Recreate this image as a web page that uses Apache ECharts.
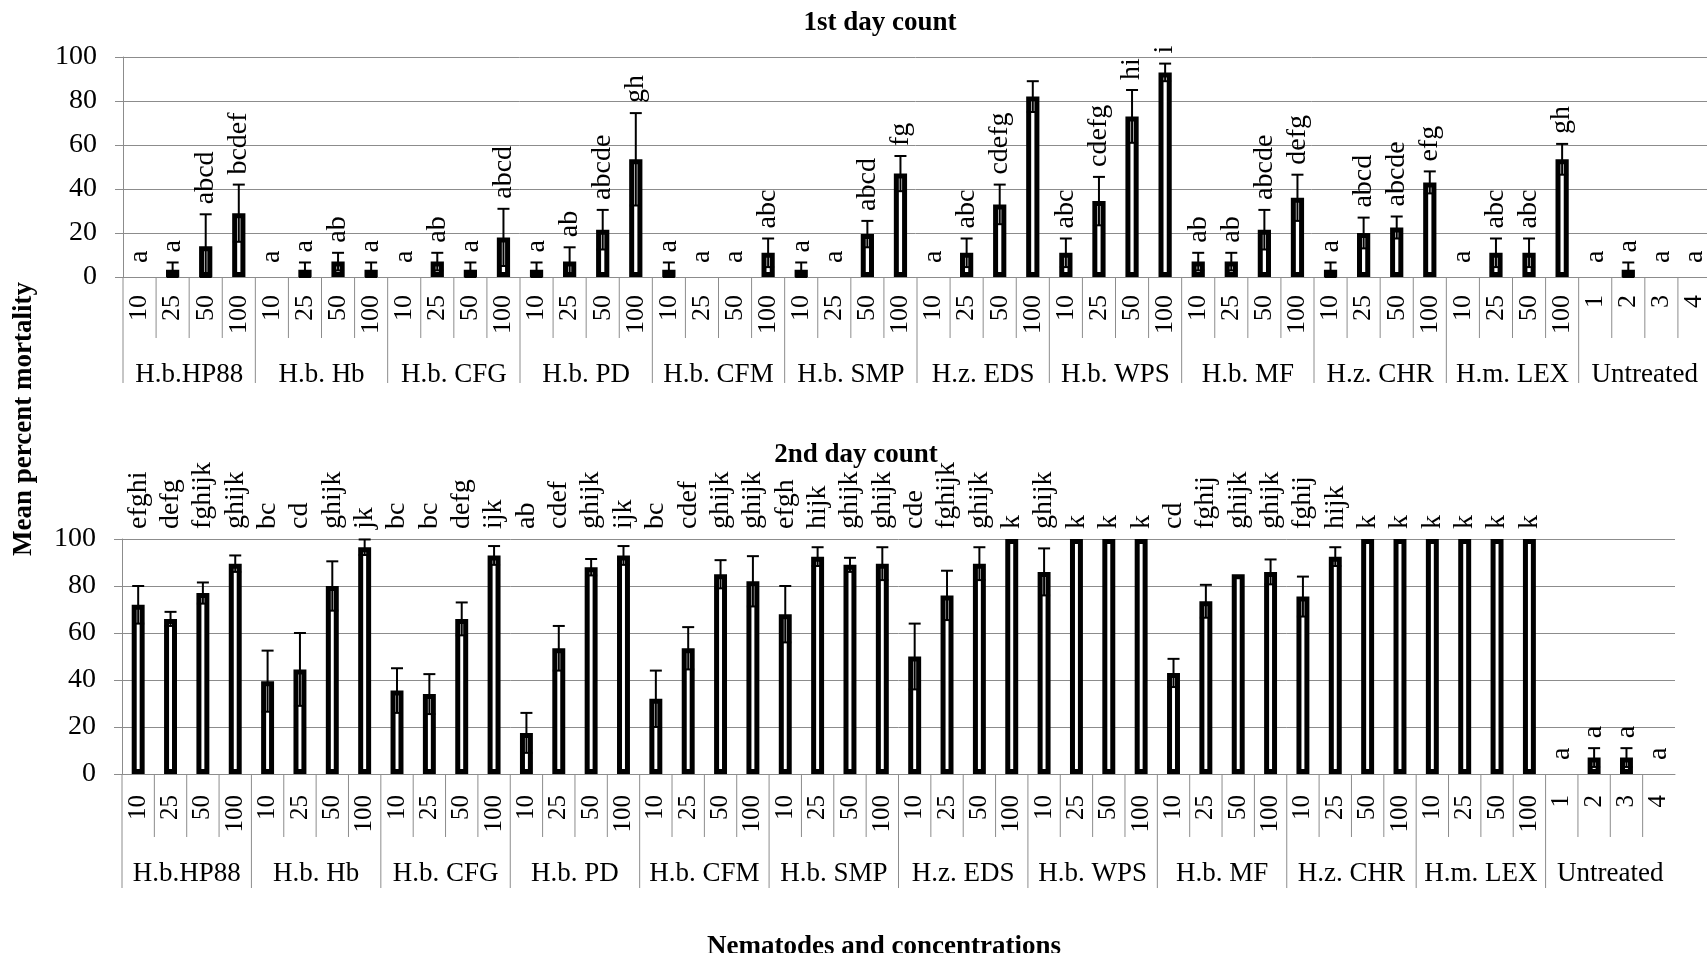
<!DOCTYPE html>
<html>
<head>
<meta charset="utf-8">
<script src="https://cdn.jsdelivr.net/npm/echarts@6/dist/echarts.min.js"></script>
<style>
  html, body { margin: 0; padding: 0; background: #fff; }
  #chart { width: 1707px; height: 953px; }
</style>
</head>
<body>
<div id="chart"></div>
<script>
// isolates and concentrations (the control has 4 replicates instead)
const groups = ["H.b.HP88", "H.b. Hb", "H.b. CFG", "H.b. PD", "H.b. CFM", "H.b. SMP",
  "H.z. EDS", "H.b. WPS", "H.b. MF", "H.z. CHR", "H.m. LEX", "Untreated"];
const concentrations = ["10", "25", "50", "100"];
const controlReps = ["1", "2", "3", "4"];

// ===== 1st day count =====
const day1Mean = [
  0, 3.3, 14, 29,   0, 3.3, 7, 3.3,   0, 7, 3.3, 18,   3.3, 7, 21.5, 53.5,
  3.3, 0, 0, 11,    3.3, 0, 19.5, 47, 0, 11, 33, 82,   11, 34.5, 73, 93,
  7, 7, 21.5, 36,   3.3, 20, 22.5, 43, 0, 11, 11, 53.5, 0, 3.3, 0, 0,
];
const day1Err = [
  0, 3.3, 14.5, 13, 0, 3.3, 4, 3.3,   0, 4, 3.3, 13,   3.3, 6.5, 9, 21,
  3.3, 0, 0, 6.5,   3.3, 0, 6, 8,     0, 6.5, 9, 7,    6.5, 11, 12, 4,
  4, 4, 9, 10.5,    3.3, 7, 5, 5,     0, 6.5, 6.5, 7,  0, 3.3, 0, 0,
];
const day1Letters = [
  "a", "a", "abcd", "bcdef",   "a", "a", "ab", "a",        "a", "ab", "a", "abcd",
  "a", "ab", "abcde", "gh",    "a", "a", "a", "abc",       "a", "a", "abcd", "fg",
  "a", "abc", "cdefg", "",     "abc", "cdefg", "hi", "i",  "ab", "ab", "abcde", "defg",
  "a", "abcd", "abcde", "efg", "a", "abc", "abc", "gh",    "a", "a", "a", "a",
];

// ===== 2nd day count =====
const day2Mean = [
  72, 66, 77, 89.5,   39.5, 44.5, 80, 96.5, 35.5, 34, 66, 93,   17.5, 53.5, 88, 93,
  32, 53.5, 85, 82,   68, 92.5, 89, 89.5,   50, 76, 89.5, 100,  86, 100, 100, 100,
  43, 73.5, 85, 86,   75.5, 92.5, 100, 100, 100, 100, 100, 100, 0, 7, 7, 0,
];
const day2Err = [
  8, 3, 4.5, 3.5,     13, 15.5, 10.5, 3.3,  9.5, 8.5, 7, 4,     8.5, 9.5, 3.5, 4,
  12, 9, 6, 10.7,     12, 4, 3, 7,          14, 10.5, 7, 0,     10, 0, 0, 0,
  6, 7, 0, 5.3,       8.5, 4, 0, 0,         0, 0, 0, 0,         0, 4, 4, 0,
];
const day2Letters = [
  "efghi", "defg", "fghijk", "ghijk", "bc", "cd", "ghijk", "jk",     "bc", "bc", "defg", "ijk",
  "ab", "cdef", "ghijk", "ijk",       "bc", "cdef", "ghijk", "ghijk", "efgh", "hijk", "ghijk", "ghijk",
  "cde", "fghijk", "ghijk", "k",      "ghijk", "k", "k", "k",         "cd", "fghij", "ghijk", "ghijk",
  "fghij", "hijk", "k", "k",          "k", "k", "k", "k",             "a", "a", "a", "a",
];

const categories = groups.flatMap(g => (g === "Untreated" ? controlReps : concentrations));

const serif = '"Liberation Serif", "Times New Roman", serif';
const gray = "#8c8c8c";

// error bar + significance letters for one panel
function errorBarRenderer(mean, err, letters, pinTop) {
  return function (params, api) {
    const i = params.dataIndex;
    const v = mean[i], e = err[i];
    const x = api.coord([i, 0])[0];
    const children = [];
    if (e > 0) {
      const lo = api.coord([i, Math.max(v - e, 0)])[1];
      const hi = api.coord([i, v + e])[1];
      const cap = 6;
      const st = { stroke: "#000", lineWidth: 2 };
      children.push({ type: "line", shape: { x1: x, y1: lo, x2: x, y2: hi }, style: st });
      children.push({ type: "line", shape: { x1: x - cap, y1: hi, x2: x + cap, y2: hi }, style: st });
      children.push({ type: "line", shape: { x1: x - cap, y1: lo, x2: x + cap, y2: lo }, style: st });
    }
    let top = v + e;
    if (pinTop && top > 20) top = 100;
    const y = api.coord([i, top])[1] - (top === 0 ? 14 : 10);
    children.push({
      type: "text", x: x, y: y, rotation: Math.PI / 2,
      style: {
        text: letters[i], fill: "#000", fontSize: 28, fontFamily: serif,
        align: "left", verticalAlign: "middle",
      },
    });
    return { type: "group", children };
  };
}

// category / group separators under the axis
function separatorRenderer(shortLen, longLen) {
  return function (params, api) {
    const i = params.dataIndex;
    const w = api.size([1, 0])[0];
    const p = api.coord([i, 0]);
    const left = p[0] - w / 2;
    const len = i % 4 === 0 ? longLen : shortLen;
    return {
      type: "line",
      shape: { x1: left, y1: p[1], x2: left, y2: p[1] + len },
      style: { stroke: gray, lineWidth: 1 },
    };
  };
}

function panelSeries(k, mean, err, letters, pinTop, shortLen, longLen) {
  return [
    {
      type: "bar", xAxisIndex: 2 * k, yAxisIndex: k, barWidth: "40%",
      data: mean.map(v => (v === 0 ? { value: 0, itemStyle: { borderWidth: 0 } } : v)),
      itemStyle: { color: "#fff", borderColor: "#000", borderWidth: 5 },
      silent: true,
    },
    {
      type: "custom", xAxisIndex: 2 * k, yAxisIndex: k, clip: false, z: 3, silent: true,
      data: mean.map((v, i) => [i, v]),
      renderItem: errorBarRenderer(mean, err, letters, pinTop),
    },
    {
      type: "custom", xAxisIndex: 2 * k, yAxisIndex: k, clip: false, silent: true,
      data: mean.map((v, i) => [i, 0]),
      renderItem: separatorRenderer(shortLen, longLen),
    },
  ];
}

function concAxis(k, margin, size) {
  return {
    type: "category", gridIndex: k, position: "bottom", data: categories,
    axisLine: { lineStyle: { color: gray, width: 1 } },
    axisTick: { show: false },
    axisLabel: { interval: 0, rotate: 90, margin, color: "#000", fontSize: size, fontFamily: serif },
  };
}

function groupAxis(k, margin) {
  return {
    type: "category", gridIndex: k, position: "bottom", data: groups,
    axisLine: { show: false }, axisTick: { show: false },
    axisLabel: { interval: 0, margin, color: "#000", fontSize: 27, fontFamily: serif },
  };
}

function valueAxis(k) {
  return {
    type: "value", gridIndex: k, min: 0, max: 100, interval: 20,
    axisLine: { show: true, lineStyle: { color: gray, width: 1 } },
    axisTick: { show: true, length: 8, lineStyle: { color: gray } },
    splitLine: { lineStyle: { color: gray, width: 1 } },
    axisLabel: { margin: 26, color: "#000", fontSize: 28, fontFamily: serif },
  };
}

const chart = echarts.init(document.getElementById("chart"));
chart.setOption({
  animation: false,
  backgroundColor: "#fff",
  grid: [
    { left: 123, top: 57, width: 1588, height: 220, outerBoundsMode: "none" },
    { left: 122, top: 539, width: 1553, height: 235, outerBoundsMode: "none" },
  ],
  xAxis: [concAxis(0, 18, 26), groupAxis(0, 84), concAxis(1, 21, 25), groupAxis(1, 86)],
  yAxis: [valueAxis(0), valueAxis(1)],
  series: [
    ...panelSeries(0, day1Mean, day1Err, day1Letters, false, 61, 106),
    ...panelSeries(1, day2Mean, day2Err, day2Letters, true, 63, 114),
  ],
  graphic: [
    {
      type: "text", x: 880, y: 23,
      style: { text: "1st day count", fill: "#000", font: `bold 27px ${serif}`, align: "center", verticalAlign: "middle" },
    },
    {
      type: "text", x: 856, y: 455,
      style: { text: "2nd day count", fill: "#000", font: `bold 27px ${serif}`, align: "center", verticalAlign: "middle" },
    },
    // the upper panel is cut off just under its group names
    { type: "rect", z: 100, shape: { x: 60, y: 383, width: 1647, height: 22 }, style: { fill: "#fff" } },
    {
      type: "text", z: 101, x: 24, y: 419, rotation: Math.PI / 2,
      style: { text: "Mean percent mortality", fill: "#000", font: `bold 27px ${serif}`, align: "center", verticalAlign: "middle" },
    },
    {
      type: "text", x: 884, y: 947,
      style: { text: "Nematodes and concentrations", fill: "#000", font: `bold 27px ${serif}`, align: "center", verticalAlign: "middle" },
    },
  ],
});
</script>
</body>
</html>
